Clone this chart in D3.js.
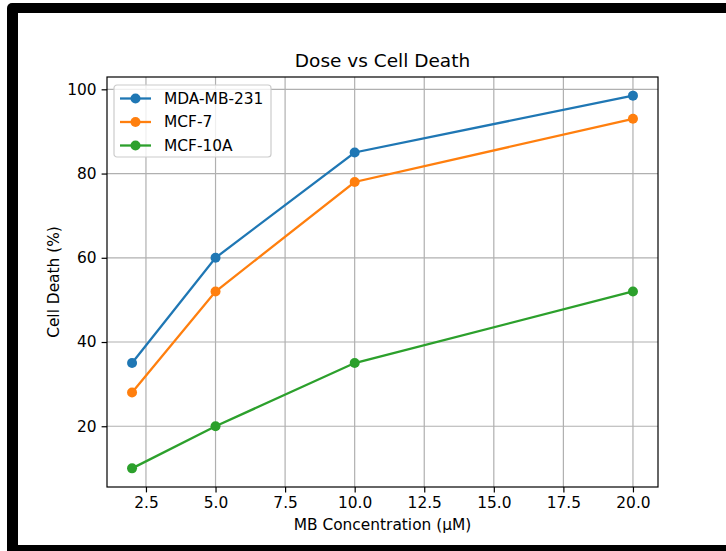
<!DOCTYPE html>
<html>
<head>
<meta charset="utf-8">
<script src="https://cdn.jsdelivr.net/npm/d3@7/dist/d3.min.js"></script>
<style>
body { margin: 0; background: #fff; }
svg text { font-family: "DejaVu Sans", sans-serif; fill: #000; }
</style>
</head>
<body>
<div id="viz"></div>
<script>
// data
var doses = [2, 5, 10, 20];
var mdaValues = [35, 60, 85, 98.5];
var mcf7Values = [28, 52, 78, 93];
var mcf10aValues = [10, 20, 35, 52];
var seriesNames = ["MDA-MB-231", "MCF-7", "MCF-10A"];
var seriesColors = ["#1f77b4", "#ff7f0e", "#2ca02c"];
var xTicks = [2.5, 5, 7.5, 10, 12.5, 15, 17.5, 20];
var yTicks = [20, 40, 60, 80, 100];

var W = 726, H = 551;
// figure sits inside a black frame, axes box inside the figure
var margin = {top: 77, right: 726 - 658, bottom: 551 - 487, left: 107};
var width = W - margin.left - margin.right;
var height = H - margin.top - margin.bottom;

var series = seriesNames.map(function(name, i){
    var vals = [mdaValues, mcf7Values, mcf10aValues][i];
    return {
        name: name,
        color: seriesColors[i],
        points: doses.map(function(d, j){ return {x: d, y: vals[j]}; })
    };
});

var svg = d3.select('#viz')
    .append('svg')
    .attr('width', W)
    .attr('height', H)
    ;

// the black frame around the figure
svg.append('rect')
    .attr('x', 7).attr('y', 3)
    .attr('width', 740).attr('height', 570)
    .attr('rx', 5)
    .attr('fill', '#000')
    ;
svg.append('rect')
    .attr('x', 18).attr('y', 13)
    .attr('width', 720).attr('height', 532)
    .attr('fill', '#fff')
    ;

/*----- SCALES -----*/
// matplotlib style 5% padding around data
var xExt = d3.extent(doses);
var xPad = (xExt[1] - xExt[0]) * 0.05;
var allY = mdaValues.concat(mcf7Values, mcf10aValues);
var yExt = d3.extent(allY);
var yPad = (yExt[1] - yExt[0]) * 0.05;

var xScale = d3.scaleLinear()
    .domain([xExt[0] - xPad, xExt[1] + xPad])
    .range([0, width])
    ;
var yScale = d3.scaleLinear()
    .domain([yExt[0] - yPad, yExt[1] + yPad])
    .range([height, 0])
    ;

var chart = svg.append('g')
    .attr('transform', 'translate(' + margin.left + ',' + margin.top + ')')
    ;

/*----- GRID -----*/
chart.append('g')
    .selectAll('line')
    .data(xTicks)
    .enter()
    .append('line')
    .attr('x1', function(d){ return xScale(d); })
    .attr('x2', function(d){ return xScale(d); })
    .attr('y1', 0).attr('y2', height)
    .attr('stroke', '#b0b0b0')
    .attr('stroke-width', 1.2)
    ;
chart.append('g')
    .selectAll('line')
    .data(yTicks)
    .enter()
    .append('line')
    .attr('y1', function(d){ return yScale(d); })
    .attr('y2', function(d){ return yScale(d); })
    .attr('x1', 0).attr('x2', width)
    .attr('stroke', '#b0b0b0')
    .attr('stroke-width', 1.2)
    ;

/*----- AXIS -----*/
var xAxis = d3.axisBottom(xScale)
    .tickValues(xTicks)
    .tickFormat(d3.format('.1f'))
    .tickSize(5.4)
    .tickPadding(5)
    ;
var yAxis = d3.axisLeft(yScale)
    .tickValues(yTicks)
    .tickFormat(d3.format('d'))
    .tickSize(5.4)
    .tickPadding(5)
    ;

var gx = chart.append('g')
    .attr('transform', 'translate(0,' + height + ')')
    .call(xAxis)
    ;
var gy = chart.append('g')
    .call(yAxis)
    ;
[gx, gy].forEach(function(g){
    g.select('.domain').remove();
    g.selectAll('.tick line').attr('stroke', '#000').attr('stroke-width', 1.2);
    g.selectAll('.tick text')
        .attr('font-size', '15.4px')
        .attr('font-family', '"DejaVu Sans", sans-serif')
        .attr('fill', '#222');
});

/*----- DRAWING -----*/
var line = d3.line()
    .x(function(d){ return xScale(d.x); })
    .y(function(d){ return yScale(d.y); })
    ;

var groups = chart.selectAll('.series')
    .data(series)
    .enter()
    .append('g')
    .attr('class', 'series')
    ;
groups.append('path')
    .attr('d', function(d){ return line(d.points); })
    .attr('fill', 'none')
    .attr('stroke', function(d){ return d.color; })
    .attr('stroke-width', 2.3)
    ;
groups.selectAll('circle')
    .data(function(d){ return d.points.map(function(p){ return {x: p.x, y: p.y, color: d.color}; }); })
    .enter()
    .append('circle')
    .attr('cx', function(d){ return xScale(d.x); })
    .attr('cy', function(d){ return yScale(d.y); })
    .attr('r', 5)
    .attr('fill', function(d){ return d.color; })
    ;

// axes box on top
chart.append('rect')
    .attr('width', width)
    .attr('height', height)
    .attr('fill', 'none')
    .attr('stroke', '#000')
    .attr('stroke-width', 1.2)
    ;

/*----- LEGEND -----*/
var legend = chart.append('g')
    .attr('transform', 'translate(7,8)')
    ;
legend.append('rect')
    .attr('width', 157)
    .attr('height', 72)
    .attr('rx', 3)
    .attr('fill', '#fff')
    .attr('fill-opacity', 0.8)
    .attr('stroke', '#cccccc')
    .attr('stroke-width', 1.2)
    ;
var items = legend.selectAll('.item')
    .data(series)
    .enter()
    .append('g')
    .attr('class', 'item')
    .attr('transform', function(d, i){ return 'translate(0,' + (13.5 + i * 23.5) + ')'; })
    ;
items.append('line')
    .attr('x1', 6).attr('x2', 37)
    .attr('stroke', function(d){ return d.color; })
    .attr('stroke-width', 2.3)
    ;
items.append('circle')
    .attr('cx', 21.5)
    .attr('r', 5)
    .attr('fill', function(d){ return d.color; })
    ;
items.append('text')
    .attr('x', 50)
    .attr('dy', '0.35em')
    .attr('font-size', '15.4px')
    .attr('fill', '#222')
    .text(function(d){ return d.name; })
    ;

/*----- TITLES -----*/
svg.append('text')
    .attr('x', margin.left + width / 2)
    .attr('y', 67)
    .attr('text-anchor', 'middle')
    .attr('font-size', '18.5px')
    .attr('fill', '#222')
    .text('Dose vs Cell Death')
    ;
svg.append('text')
    .attr('x', margin.left + width / 2)
    .attr('y', 530)
    .attr('text-anchor', 'middle')
    .attr('font-size', '15.4px')
    .attr('fill', '#222')
    .text('MB Concentration (µM)')
    ;
svg.append('text')
    .attr('transform', 'translate(59,' + (margin.top + height / 2) + ') rotate(-90)')
    .attr('text-anchor', 'middle')
    .attr('font-size', '15.4px')
    .attr('fill', '#222')
    .text('Cell Death (%)')
    ;
</script>
</body>
</html>
